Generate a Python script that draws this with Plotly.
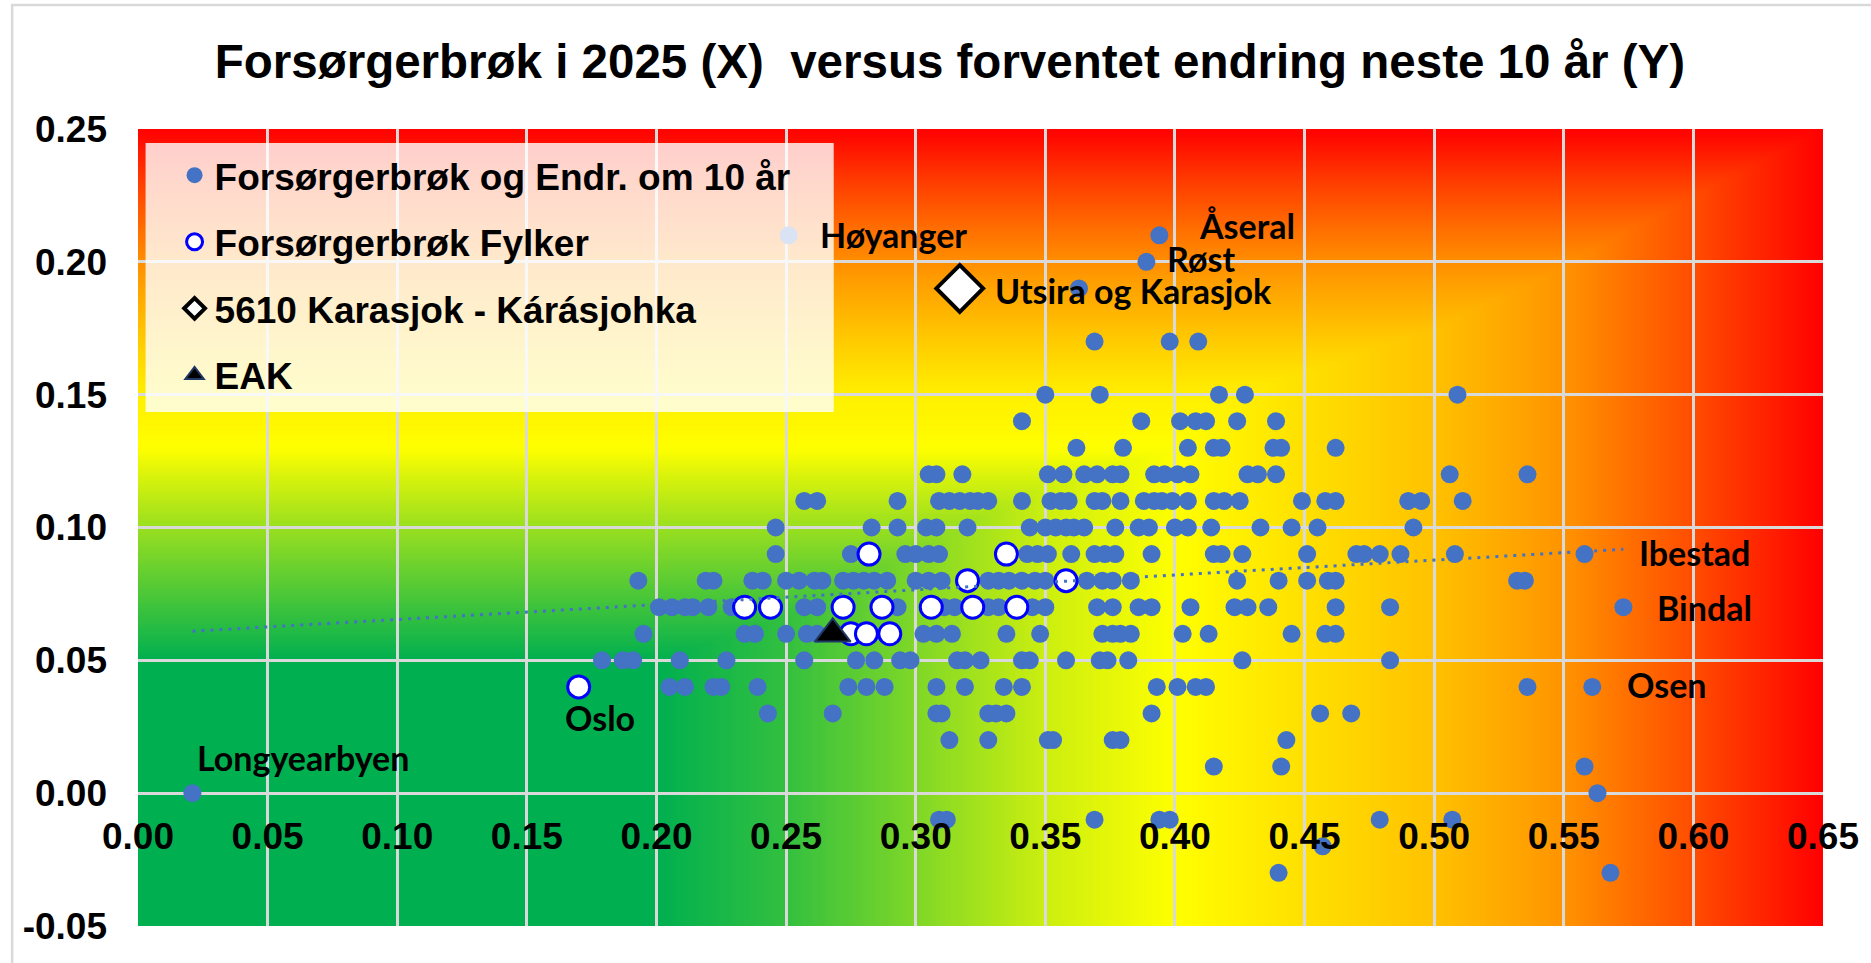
import base64
import struct
import zlib
import numpy as np
import plotly.graph_objects as go

# Forsørgerbrøk 2025 (x) og endring neste 10 år (y), kommunene lest rad for rad
rad_y = [0.21, 0.20, 0.19, 0.17, 0.15, 0.14, 0.13, 0.12, 0.11, 0.10, 0.09, 0.08,
         0.07, 0.06, 0.05, 0.04, 0.03, 0.02, 0.01, 0.00, -0.01, -0.02, -0.03]
rad_x = [
    [0.251, 0.394],
    [0.389],
    [0.363],
    [0.369, 0.398, 0.409],
    [0.350, 0.371, 0.417, 0.427, 0.509],
    [0.341, 0.387, 0.402, 0.408, 0.412, 0.424, 0.439],
    [0.362, 0.380, 0.405, 0.415, 0.418, 0.438, 0.441, 0.462],
    [0.305, 0.308, 0.318, 0.351, 0.357, 0.365, 0.370, 0.376, 0.379, 0.392, 0.396,
     0.401, 0.406, 0.428, 0.432, 0.439, 0.506, 0.536],
    [0.257, 0.262, 0.293, 0.309, 0.313, 0.317, 0.321, 0.324, 0.328, 0.341, 0.352,
     0.356, 0.359, 0.369, 0.372, 0.379, 0.388, 0.392, 0.395, 0.399, 0.405, 0.415,
     0.419, 0.425, 0.449, 0.458, 0.462, 0.490, 0.495, 0.511],
    [0.246, 0.283, 0.293, 0.304, 0.308, 0.320, 0.344, 0.350, 0.354, 0.358, 0.361,
     0.365, 0.377, 0.386, 0.390, 0.400, 0.405, 0.414, 0.433, 0.445, 0.455, 0.492],
    [0.246, 0.275, 0.296, 0.300, 0.305, 0.309, 0.343, 0.347, 0.351, 0.360, 0.369,
     0.373, 0.377, 0.391, 0.415, 0.418, 0.426, 0.451, 0.470, 0.473, 0.479, 0.487,
     0.508, 0.558],
    [0.193, 0.219, 0.222, 0.237, 0.241, 0.250, 0.255, 0.261, 0.264, 0.272, 0.276,
     0.280, 0.284, 0.289, 0.300, 0.305, 0.310, 0.328, 0.332, 0.336, 0.341, 0.346,
     0.350, 0.366, 0.372, 0.376, 0.383, 0.424, 0.440, 0.451, 0.459, 0.462, 0.532,
     0.535],
    [0.201, 0.206, 0.211, 0.214, 0.220, 0.229, 0.257, 0.262, 0.293, 0.311, 0.315,
     0.328, 0.332, 0.345, 0.350, 0.370, 0.376, 0.386, 0.391, 0.406, 0.423, 0.428,
     0.436, 0.462, 0.483, 0.573],
    [0.195, 0.234, 0.238, 0.250, 0.258, 0.262, 0.303, 0.308, 0.314, 0.335, 0.348,
     0.372, 0.376, 0.379, 0.383, 0.403, 0.413, 0.445, 0.458, 0.462],
    [0.179, 0.187, 0.191, 0.209, 0.227, 0.257, 0.277, 0.284, 0.294, 0.298, 0.316,
     0.319, 0.325, 0.341, 0.344, 0.358, 0.371, 0.374, 0.382, 0.426, 0.483],
    [0.205, 0.211, 0.222, 0.225, 0.239, 0.274, 0.281, 0.288, 0.308, 0.319, 0.334,
     0.341, 0.393, 0.401, 0.408, 0.412, 0.536, 0.561],
    [0.243, 0.268, 0.308, 0.310, 0.328, 0.331, 0.335, 0.391, 0.456, 0.468],
    [0.313, 0.328, 0.351, 0.353, 0.376, 0.379, 0.443],
    [0.415, 0.441, 0.558],
    [0.021, 0.563],
    [0.309, 0.312, 0.369, 0.394, 0.398, 0.479, 0.507],
    [0.457],
    [0.440, 0.568],
]

# fylkene
fylke_x = [0.170, 0.234, 0.244, 0.272, 0.287, 0.306, 0.322, 0.339,
           0.275, 0.281, 0.290, 0.282, 0.335, 0.320, 0.358]
fylke_y = [0.04, 0.07, 0.07, 0.07, 0.07, 0.07, 0.07, 0.07,
           0.06, 0.06, 0.06, 0.09, 0.09, 0.08, 0.08]

karasjok_x = [0.317]
karasjok_y = [0.19]
eak_x = [0.268]
eak_y = [0.06]

etiketter = ["Høyanger", "Åseral", "Røst", "Utsira og Karasjok", "Oslo",
             "Longyearbyen", "Ibestad", "Bindal", "Osen"]
etikett_x = [0.251, 0.394, 0.389, 0.317, 0.170, 0.021, 0.558, 0.573, 0.561]
etikett_y = [0.21, 0.21, 0.20, 0.19, 0.04, 0.00, 0.09, 0.07, 0.04]

x_ticks = [round(0.05 * i, 2) for i in range(14)]
y_ticks = [round(-0.05 + 0.05 * i, 2) for i in range(7)]

kx = [x for xs, y in zip(rad_x, rad_y) for x in xs]
ky = [y for xs, y in zip(rad_x, rad_y) for x in xs]

BLA = "#4472C4"

# bakgrunn: grønn -> gul -> rød, lagd som et lite png-bilde
W, H = 260, 120
bx = (np.arange(W) + 0.5) / W * 0.65
by = 0.25 - (np.arange(H) + 0.5) / H * 0.30
hx = np.interp(bx, [0, 0.2, 0.25, 0.3, 0.35, 0.4, 0.45, 0.5, 0.55, 0.6, 0.65],
               [0, 0, 0.1, 0.25, 0.4, 0.5, 0.56, 0.62, 0.71, 0.85, 1.0])
hy = np.interp(by, [-0.05, 0.05, 0.07, 0.10, 0.12, 0.13, 0.15, 0.17, 0.19, 0.20, 0.21, 0.23, 0.25],
               [0, 0, 0.12, 0.3, 0.43, 0.5, 0.53, 0.6, 0.68, 0.72, 0.77, 0.88, 1.0])
hh = np.maximum(hx[None, :], hy[:, None])
r = np.where(hh < 0.5, 255 * hh / 0.5, 255)
g = np.where(hh < 0.5, 176 + 79 * hh / 0.5, 255 * (1 - (hh - 0.5) / 0.5))
b = np.where(hh < 0.5, 80 * (1 - hh / 0.5), 0)
img = np.stack([r, g, b], axis=-1).round().clip(0, 255).astype(np.uint8)
raw = b"".join(b"\x00" + img[i].tobytes() for i in range(H))


def chunk(tag, data):
    return struct.pack(">I", len(data)) + tag + data + struct.pack(">I", zlib.crc32(tag + data) & 0xffffffff)


png = (b"\x89PNG\r\n\x1a\n" + chunk(b"IHDR", struct.pack(">IIBBBBB", W, H, 8, 2, 0, 0, 0))
       + chunk(b"IDAT", zlib.compress(raw, 9)) + chunk(b"IEND", b""))
bg_src = "data:image/png;base64," + base64.b64encode(png).decode()

fig = go.Figure()

fig.add_trace(go.Scatter(
    x=kx, y=ky, mode="markers", name="<b>Forsørgerbrøk og Endr. om 10 år</b>",
    legendgroup="a", marker=dict(size=18, color=BLA),
))
fig.add_trace(go.Scatter(
    x=fylke_x, y=fylke_y, mode="markers", name="<b>Forsørgerbrøk Fylker</b>",
    legendgroup="b", marker=dict(size=22, color="white", line=dict(color="#0000FF", width=3)),
))

# lineær trendlinje for kommunene
coef = np.polyfit(kx, ky, 1)
tx = np.array([min(kx), max(kx)])
fig.add_trace(go.Scatter(
    x=tx, y=np.polyval(coef, tx), mode="lines", showlegend=False, hoverinfo="skip",
    line=dict(color=BLA, width=3, dash="3px,6px"),
))

fig.add_trace(go.Scatter(
    x=karasjok_x, y=karasjok_y, mode="markers", name="<b>5610 Karasjok - Kárásjohka</b>",
    legendgroup="c",
    marker=dict(symbol="diamond", size=36, color="white", line=dict(color="black", width=4)),
))
fig.add_trace(go.Scatter(
    x=eak_x, y=eak_y, mode="markers", name="<b>EAK</b>", legendgroup="d",
    marker=dict(symbol="triangle-up", size=31, color="black", line=dict(color="#1F3864", width=2)),
))

# etiketter: (xshift, yshift, xanchor)
plass = {
    "Høyanger": (29, 1, "left"),
    "Åseral": (38, 10, "left"),
    "Røst": (19, 3, "left"),
    "Utsira og Karasjok": (33, -2, "left"),
    "Oslo": (21, -31, "center"),
    "Longyearbyen": (3, 36, "left"),
    "Ibestad": (52, 2, "left"),
    "Bindal": (32, 0, "left"),
    "Osen": (33, 2, "left"),
}
for navn, x, y in zip(etiketter, etikett_x, etikett_y):
    dx, dy, anc = plass[navn]
    fig.add_annotation(x=x, y=y, text="<b>" + navn + "</b>", showarrow=False,
                       xanchor=anc, yanchor="middle", xshift=dx, yshift=dy,
                       font=dict(family="Lato", size=34, color="black"))

fig.add_layout_image(dict(source=bg_src, xref="x", yref="y", x=0, y=0.25, sizex=0.65,
                          sizey=0.30, sizing="stretch", xanchor="left", yanchor="top",
                          layer="below"))

# halvgjennomsiktig felt bak tegnforklaringen
fig.add_shape(type="rect", xref="paper", yref="paper", x0=0.0045, x1=0.4129, y0=0.6449,
              y1=0.9824, fillcolor="rgba(255,255,255,0.8)", line_width=0, layer="above")
# kant rundt plottområdet
fig.add_shape(type="rect", xref="x", yref="y", x0=0, x1=0.65, y0=-0.05, y1=0.25,
              line=dict(color="#D9D9D9", width=3), layer="below")
# ramme rundt hele diagrammet
fig.add_shape(type="rect", xref="paper", yref="paper", x0=-0.0747, x1=1.2, y0=-0.2, y1=1.1556,
              line=dict(color="#D9D9D9", width=2.5), layer="above")

tickfont = dict(family="Liberation Sans", size=37, color="black", weight="bold")
fig.update_layout(
    width=1871, height=963,
    margin=dict(l=138, r=41, t=129, b=37),
    paper_bgcolor="white", plot_bgcolor="rgba(0,0,0,0)",
    title=dict(text="<b>Forsørgerbrøk i 2025 (X)\u00a0 versus forventet endring neste 10 år (Y)</b>",
               x=0.5077, xanchor="center", y=0.9367, yanchor="middle",
               font=dict(family="Liberation Sans", size=47.5, color="black")),
    xaxis=dict(range=[0, 0.65], tickvals=x_ticks, ticktext=[f"{v:.2f}" for v in x_ticks],
               showgrid=True, gridcolor="#D9D9D9", gridwidth=2.5, zeroline=False,
               showline=False, anchor="free", position=1 / 6, ticks="",
               ticklabelstandoff=18, tickfont=tickfont),
    yaxis=dict(range=[-0.05, 0.25], tickvals=y_ticks, ticktext=[f"{v:.2f}" for v in y_ticks],
               showgrid=True, gridcolor="#D9D9D9", gridwidth=2.5, zeroline=False,
               showline=False, ticks="", ticklabelstandoff=30, tickfont=tickfont),
    legend=dict(x=0.0217, y=0.9804, xanchor="left", yanchor="top", bgcolor="rgba(0,0,0,0)",
                font=dict(family="Liberation Sans", size=37, color="black"),
                tracegroupgap=15.5),
    showlegend=True,
)

fig.write_html("out.html", config={"displayModeBar": False},
               post_script="document.body.style.margin='0';document.body.style.overflow='hidden';")
